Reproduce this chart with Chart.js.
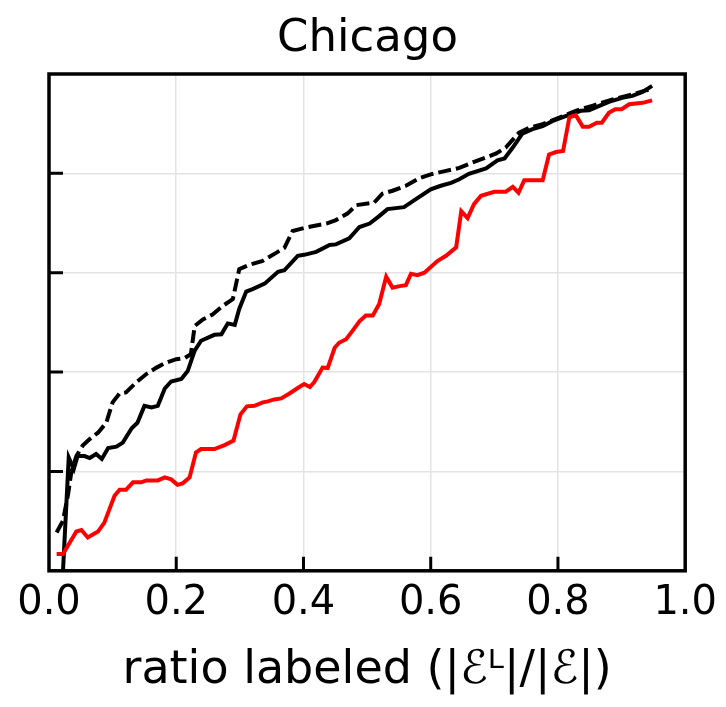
<!DOCTYPE html>
<html>
<head>
<meta charset="utf-8">
<script src="https://cdn.jsdelivr.net/npm/chart.js@4.4.0/dist/chart.umd.min.js"></script>
<style>
  html, body { margin: 0; padding: 0; background: #fff; }
  #wrap { width: 726px; height: 707px; }
</style>
</head>
<body>
<div id="wrap"><canvas id="chart" width="726" height="707"></canvas></div>
<script>
/* =========================
   DATA
========================= */
const chartTitle = "Chicago";
const xTitle = "ratio labeled (|\u2130\u1D38|/|\u2130|)";
const tickValues = [0.2, 0.4, 0.6, 0.8];

// red line
const redX = [0.012, 0.022, 0.043, 0.051, 0.061, 0.077, 0.087, 0.103, 0.111, 0.121,
  0.132, 0.145, 0.153, 0.171, 0.182, 0.192, 0.202, 0.210, 0.221, 0.231,
  0.239, 0.260, 0.276, 0.290, 0.301, 0.311, 0.323, 0.336, 0.344, 0.354,
  0.365, 0.378, 0.391, 0.401, 0.410, 0.417, 0.430, 0.438, 0.449, 0.456,
  0.467, 0.477, 0.488, 0.498, 0.509, 0.519, 0.523, 0.530, 0.540, 0.551,
  0.561, 0.569, 0.579, 0.590, 0.611, 0.624, 0.640, 0.648, 0.658, 0.668,
  0.679, 0.700, 0.718, 0.729, 0.738, 0.747, 0.776, 0.786, 0.797, 0.808,
  0.818, 0.828, 0.839, 0.849, 0.861, 0.869, 0.880, 0.890, 0.900, 0.912,
  0.933, 0.948];
const redY = [0.034, 0.034, 0.079, 0.082, 0.067, 0.079, 0.097, 0.151, 0.163, 0.163,
  0.178, 0.178, 0.182, 0.182, 0.188, 0.184, 0.173, 0.176, 0.188, 0.238,
  0.245, 0.245, 0.253, 0.262, 0.315, 0.331, 0.332, 0.339, 0.341, 0.345,
  0.347, 0.357, 0.368, 0.376, 0.370, 0.380, 0.409, 0.408, 0.449, 0.459,
  0.466, 0.483, 0.502, 0.514, 0.514, 0.537, 0.557, 0.592, 0.570, 0.573,
  0.575, 0.598, 0.595, 0.600, 0.624, 0.634, 0.651, 0.724, 0.710, 0.738,
  0.755, 0.763, 0.763, 0.773, 0.761, 0.786, 0.786, 0.838, 0.843, 0.845,
  0.913, 0.917, 0.894, 0.894, 0.902, 0.902, 0.922, 0.929, 0.929, 0.939,
  0.942, 0.947];

// solid black line
const solidX = [0.022, 0.031, 0.039, 0.045, 0.056, 0.064, 0.074, 0.083, 0.093, 0.106,
  0.116, 0.130, 0.139, 0.150, 0.161, 0.171, 0.182, 0.192, 0.208, 0.218,
  0.229, 0.239, 0.260, 0.271, 0.281, 0.292, 0.299, 0.310, 0.320, 0.339,
  0.360, 0.370, 0.391, 0.401, 0.420, 0.441, 0.451, 0.472, 0.488, 0.504,
  0.519, 0.532, 0.558, 0.572, 0.600, 0.616, 0.632, 0.645, 0.660, 0.687,
  0.705, 0.716, 0.729, 0.744, 0.760, 0.776, 0.791, 0.812, 0.836, 0.849,
  0.865, 0.880, 0.901, 0.917, 0.933, 0.948];
const solidY = [0.000, 0.228, 0.205, 0.231, 0.231, 0.227, 0.235, 0.225, 0.247, 0.250,
  0.258, 0.287, 0.298, 0.332, 0.329, 0.332, 0.367, 0.381, 0.386, 0.402,
  0.443, 0.463, 0.475, 0.476, 0.498, 0.495, 0.527, 0.562, 0.567, 0.578,
  0.602, 0.605, 0.634, 0.636, 0.642, 0.656, 0.657, 0.669, 0.692, 0.699,
  0.714, 0.728, 0.732, 0.744, 0.768, 0.775, 0.781, 0.788, 0.799, 0.810,
  0.826, 0.830, 0.852, 0.880, 0.889, 0.895, 0.905, 0.915, 0.926, 0.927,
  0.936, 0.944, 0.952, 0.956, 0.964, 0.976];

// dashed black line
const dashX = [0.012, 0.022, 0.030, 0.035, 0.043, 0.053, 0.064, 0.077, 0.090, 0.100,
  0.111, 0.121, 0.137, 0.153, 0.169, 0.184, 0.200, 0.213, 0.223, 0.229,
  0.242, 0.257, 0.273, 0.289, 0.299, 0.315, 0.336, 0.357, 0.370, 0.383,
  0.404, 0.436, 0.451, 0.469, 0.483, 0.511, 0.524, 0.540, 0.561, 0.582,
  0.600, 0.624, 0.645, 0.666, 0.687, 0.703, 0.718, 0.739, 0.755, 0.776,
  0.802, 0.828, 0.854, 0.886, 0.917, 0.938, 0.948];
const dashY = [0.077, 0.101, 0.154, 0.198, 0.231, 0.252, 0.265, 0.278, 0.298, 0.339,
  0.357, 0.359, 0.379, 0.396, 0.409, 0.419, 0.426, 0.428, 0.436, 0.493,
  0.506, 0.516, 0.533, 0.547, 0.607, 0.616, 0.624, 0.640, 0.650, 0.684,
  0.691, 0.699, 0.706, 0.719, 0.736, 0.741, 0.759, 0.765, 0.775, 0.790,
  0.798, 0.805, 0.811, 0.822, 0.832, 0.840, 0.852, 0.882, 0.892, 0.899,
  0.912, 0.926, 0.936, 0.949, 0.959, 0.967, 0.969];

function points(xs, ys) {
  return xs.map((x, i) => ({ x: x, y: ys[i] }));
}

/* =========================
   FRAME + INWARD TICKS
========================= */
const framePlugin = {
  id: "frame",
  afterDraw(chart) {
    const ctx = chart.ctx;
    const a = chart.chartArea;
    const xs = chart.scales.x;
    const ys = chart.scales.y;
    ctx.save();
    ctx.strokeStyle = "#000";
    ctx.lineWidth = 3.5;
    ctx.strokeRect(a.left, a.top, a.right - a.left, a.bottom - a.top);
    ctx.lineWidth = 3;
    ctx.beginPath();
    tickValues.forEach(v => {
      const px = xs.getPixelForValue(v);
      ctx.moveTo(px, a.bottom);
      ctx.lineTo(px, a.bottom - 14);
      const py = ys.getPixelForValue(v);
      ctx.moveTo(a.left, py);
      ctx.lineTo(a.left + 14, py);
    });
    ctx.stroke();
    ctx.restore();
  }
};

/* =========================
   CHART
========================= */
const font = "'DejaVu Sans', sans-serif";

new Chart(document.getElementById("chart"), {
  type: "line",
  data: {
    datasets: [
      {
        data: points(redX, redY),
        borderColor: "#ff0000",
        borderWidth: 4
      },
      {
        data: points(solidX, solidY),
        borderColor: "#000000",
        borderWidth: 4
      },
      {
        data: points(dashX, dashY),
        borderColor: "#000000",
        borderWidth: 4,
        borderDash: [13, 5]
      }
    ]
  },
  options: {
    responsive: false,
    animation: false,
    elements: {
      point: { radius: 0 },
      line: { tension: 0, borderCapStyle: "butt" }
    },
    layout: { padding: { left: 49, right: 40, top: 0, bottom: 8 } },
    plugins: {
      legend: { display: false },
      tooltip: { enabled: false },
      title: {
        display: true,
        text: chartTitle,
        color: "#000",
        font: { family: font, size: 45, weight: "normal" },
        padding: { top: 12, bottom: 8 }
      }
    },
    scales: {
      x: {
        type: "linear",
        min: 0,
        max: 1,
        border: { display: false },
        grid: { color: "#e3e3e3", lineWidth: 1.5, drawTicks: false },
        ticks: {
          stepSize: 0.2,
          padding: 9,
          color: "#000",
          maxRotation: 0,
          font: { family: font, size: 40 },
          callback: v => v.toFixed(1)
        },
        title: {
          display: true,
          text: xTitle,
          color: "#000",
          font: { family: font, size: 46 },
          padding: { top: 7, bottom: 0 }
        }
      },
      y: {
        type: "linear",
        min: 0,
        max: 1,
        border: { display: false },
        grid: { color: "#e3e3e3", lineWidth: 1.5, drawTicks: false },
        ticks: { stepSize: 0.2, display: false }
      }
    }
  },
  plugins: [framePlugin]
});
</script>
</body>
</html>
